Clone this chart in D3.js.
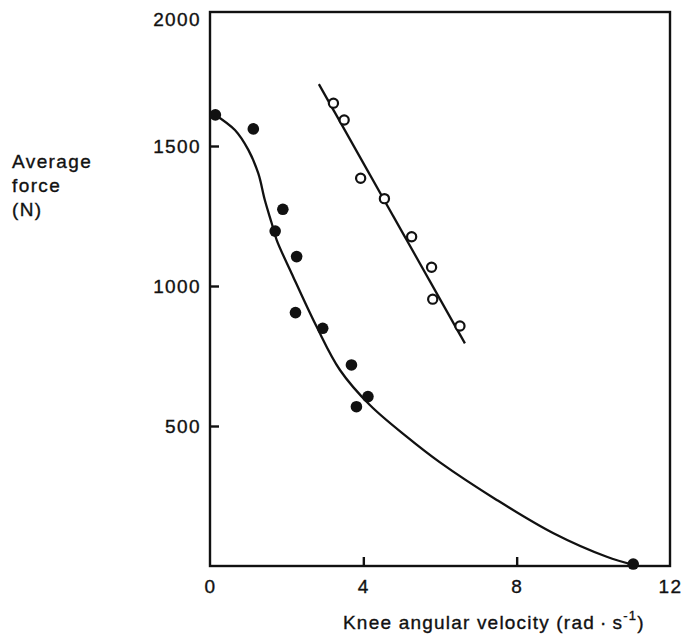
<!DOCTYPE html>
<html>
<head>
<meta charset="utf-8">
<script src="https://cdn.jsdelivr.net/npm/d3@7"></script>
<style>
  html, body { margin: 0; padding: 0; background: #fff; }
  svg text { font-family: "Liberation Sans", Arial, Helvetica, sans-serif; fill: #111; stroke: #111; stroke-width: 0.35px; }
</style>
</head>
<body>
<svg id="chart" width="685" height="638"></svg>
<script>
// ---- Data ----
const xTicks = [0, 4, 8, 12];
const yTicks = [500, 1000, 1500, 2000];

// filled circles: [knee angular velocity, average force]
const filledX = [0.14, 1.13, 1.90, 1.70, 2.26, 2.23, 2.94, 3.69, 4.12, 3.82, 11.04];
const filledY = [1611, 1561, 1274, 1196, 1105, 905, 849, 718, 605, 569, 7];

// open circles
const openX = [3.22, 3.50, 3.93, 4.55, 5.26, 5.78, 5.81, 6.52];
const openY = [1653, 1593, 1385, 1312, 1176, 1067, 953, 857];

// fitted straight line through open circles (end points)
const lineX = [2.84, 6.65];
const lineY = [1721, 795];

// fitted curve through filled circles
const curveX = [0.14, 0.65, 1.00, 1.26, 1.43, 1.61, 1.74, 2.13, 2.78, 3.39, 4.17, 5.13, 6.00, 7.48, 8.96, 10.35, 11.05];
const curveY = [1611, 1557, 1486, 1402, 1307, 1224, 1164, 1045, 855, 700, 575, 462, 370, 236, 117, 33, 4];

// ---- Layout ----
const svg = d3.select("#chart");
const left = 210, right = 670, bottom = 566, frameTop = 12;
const x = d3.scaleLinear().domain([0, 12]).range([left, right]);
const y = d3.scaleLinear().domain([0, 2000]).range([bottom, 6]);

const fontSize = "19px", ls = "1.4px";
const ink = "#111";

// frame
svg.append("rect")
  .attr("x", left).attr("y", frameTop)
  .attr("width", right - left).attr("height", bottom - frameTop)
  .attr("fill", "none").attr("stroke", ink).attr("stroke-width", 2.4);

// x axis
const gx = svg.append("g").attr("transform", `translate(0,${bottom})`)
  .call(d3.axisBottom(x).tickValues(xTicks).tickSize(-9).tickPadding(14).tickFormat(d3.format("d")));
gx.select(".domain").remove();
gx.selectAll(".tick line").attr("stroke", ink).attr("stroke-width", 2.4)
  .filter(d => d === 0 || d === 12).remove();
gx.selectAll(".tick text").style("font-size", fontSize).style("letter-spacing", ls).attr("fill", ink);

// y axis
const gy = svg.append("g").attr("transform", `translate(${left},0)`)
  .call(d3.axisLeft(y).tickValues(yTicks).tickSize(-9).tickPadding(9).tickFormat(d3.format("d")));
gy.select(".domain").remove();
gy.selectAll(".tick line").attr("stroke", ink).attr("stroke-width", 2.4)
  .filter(d => d === 2000).remove();
gy.selectAll(".tick text").style("font-size", fontSize).style("letter-spacing", ls).attr("fill", ink);
// top label sits just below the frame corner
gy.selectAll(".tick text").filter(d => d === 2000).attr("dy", "1.0em");

// y axis title
const yt = svg.append("text").attr("x", 12).attr("y", 168)
  .style("font-size", fontSize).style("letter-spacing", ls);
["Average", "force", "(N)"].forEach((t, i) => {
  yt.append("tspan").attr("x", 12).attr("dy", i === 0 ? 0 : 24).text(t);
});

// x axis title
const xt = svg.append("text").attr("x", 343).attr("y", 629)
  .style("font-size", fontSize).style("letter-spacing", "1.2px");
xt.append("tspan").text("Knee angular velocity (rad\u2009\u00B7\u2009s");
xt.append("tspan").attr("dy", -9).style("font-size", "13px").text("-1");
xt.append("tspan").attr("dy", 9).text(")");

// fitted curve
const curveData = curveX.map((v, i) => [v, curveY[i]]);
svg.append("path")
  .datum(curveData)
  .attr("fill", "none").attr("stroke", ink).attr("stroke-width", 2.3)
  .attr("d", d3.line().x(d => x(d[0])).y(d => y(d[1])).curve(d3.curveCatmullRom.alpha(0.5)));

// straight line
const lineData = lineX.map((v, i) => [v, lineY[i]]);
svg.append("path")
  .datum(lineData)
  .attr("fill", "none").attr("stroke", ink).attr("stroke-width", 2.3)
  .attr("d", d3.line().x(d => x(d[0])).y(d => y(d[1])));

// filled circles
svg.append("g").selectAll("circle")
  .data(filledX.map((v, i) => [v, filledY[i]]))
  .join("circle")
  .attr("cx", d => x(d[0])).attr("cy", d => y(d[1]))
  .attr("r", 5.8).attr("fill", ink);

// open circles
svg.append("g").selectAll("circle")
  .data(openX.map((v, i) => [v, openY[i]]))
  .join("circle")
  .attr("cx", d => x(d[0])).attr("cy", d => y(d[1]))
  .attr("r", 4.6).attr("fill", "#fff").attr("stroke", ink).attr("stroke-width", 2.2);
</script>
</body>
</html>
